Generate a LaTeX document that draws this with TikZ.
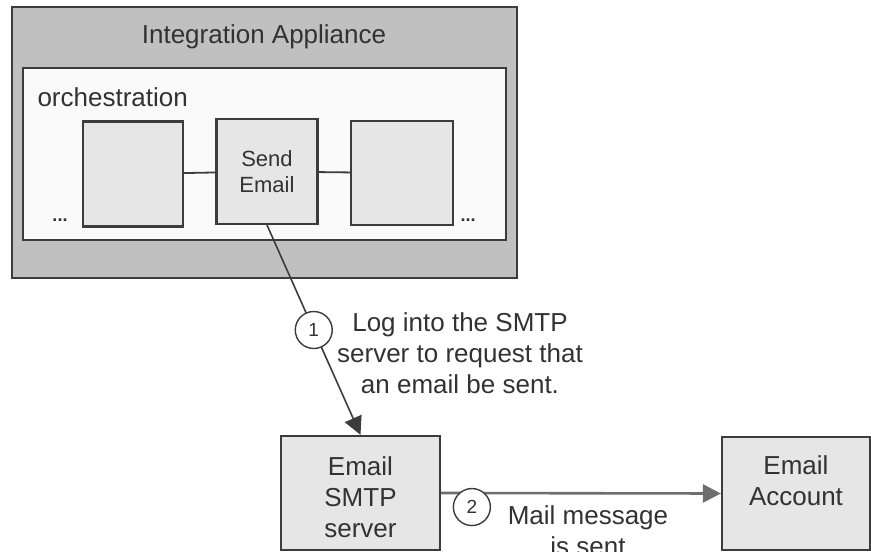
\documentclass[tikz,border=0pt]{standalone}
\usepackage{fontspec}
\setmainfont{Liberation Sans}
\usepackage{xcolor}
\definecolor{iaframe}{RGB}{60,60,60}
\definecolor{iagray}{RGB}{192,192,192}
\definecolor{iawhite}{RGB}{250,250,250}
\definecolor{iabox}{RGB}{230,230,230}
\definecolor{iatext}{RGB}{50,50,50}
\definecolor{ialine}{RGB}{110,110,110}
\usetikzlibrary{arrows.meta,positioning}

\begin{document}
\begin{tikzpicture}[x=1pt,y=-1pt,
  container/.style={draw=iaframe,line width=2.2pt,inner sep=0pt},
  block/.style={draw=iaframe,line width=2.2pt,fill=iabox,align=center,text=iatext,inner sep=0pt,font=\fontsize{26}{31}\selectfont},
  txt/.style={align=center,text=iatext,font=\fontsize{26}{31}\selectfont},
  num/.style={circle,draw=iaframe,fill=white,line width=1.4pt,minimum size=37pt,inner sep=0pt,text=iatext,font=\fontsize{19}{20}\selectfont},
  arr/.style={-{Triangle[length=18pt,width=18pt]},line width=1.6pt,iaframe}]
  \clip (0,0) rectangle (871,552);
  \useasboundingbox (0,0) rectangle (871,552);
  % Appliance
  \node[container,fill=iagray,minimum width=505pt,minimum height=271pt] (appliance) at (264.5,142.5) {};
  \node[txt] (title) at (264,37) {Integration Appliance};
  % Orchestration
  \node[container,fill=iawhite,minimum width=483pt,minimum height=172pt] (orch) at (264.5,154) {};
  \node[txt,anchor=west] (orchlbl) at (34,97) {orchestration};
  % Steps
  \node[block,minimum width=100pt,minimum height=105pt] (stepa) at (133,174) {};
  \node[block,minimum width=101pt,minimum height=105pt,font=\fontsize{22}{26}\selectfont] (send) at (267,171.5) {Send\\Email};
  \node[block,minimum width=102pt,minimum height=104pt] (stepc) at (402,173) {};
  \node[text=iatext,font=\fontsize{18}{18}\selectfont\bfseries] (dotsl) at (60,220) {...};
  \node[text=iatext,font=\fontsize{18}{18}\selectfont\bfseries] (dotsr) at (468,220) {...};
  \draw[line width=1.8pt,iaframe] (stepa) -- (send);
  \draw[line width=1.8pt,iaframe] (send) -- (stepc);
  % Server and account
  \node[block,minimum width=159pt,minimum height=114pt] (smtp) at (360.5,493) {};
  \node[txt] (smtplbl) at (360.5,497) {Email\\SMTP\\server};
  \node[block,minimum width=148pt,minimum height=113pt] (account) at (796,493.5) {};
  \node[txt] (accountlbl) at (796,481) {Email\\Account};
  % Arrows
  \draw[arr] (send.south) -- node[num]{1} (smtp.north);
  \node[txt] (step1) at (460,353) {Log into the SMTP\\server to request that\\an email be sent.};
  \draw[arr,line width=2.6pt,ialine] (smtp.east) -- node[num,pos=0.11,yshift=-14pt]{2} (account.west);
  \node[txt] (step2) at (588,531) {Mail message\\is sent};
\end{tikzpicture}
\end{document}
